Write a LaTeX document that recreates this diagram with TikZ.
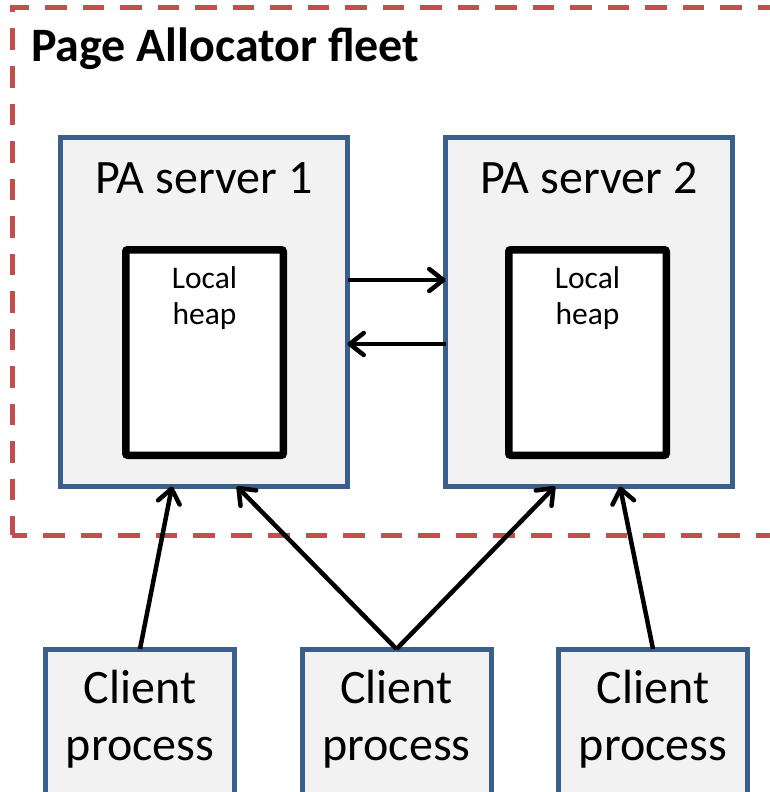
\documentclass[tikz,border=0pt]{standalone}
\usepackage{fontspec}
\setmainfont{Carlito}
\usetikzlibrary{arrows.meta}
\definecolor{boxblue}{HTML}{3A5F8B}
\definecolor{boxfill}{HTML}{F2F2F2}
\definecolor{fleetred}{HTML}{C0504D}

\begin{document}
\begin{tikzpicture}[x=1pt,y=-1pt,
  server/.style={draw=boxblue, fill=boxfill, line width=5pt,
    minimum width=287pt, minimum height=349pt, inner sep=0pt, outer sep=0pt},
  heapbox/.style={draw=black, fill=white, line width=7.5pt, rounded corners=2pt,
    minimum width=157.5pt, minimum height=205.5pt, inner sep=0pt, outer sep=0pt},
  client/.style={draw=boxblue, fill=boxfill, line width=5pt,
    minimum width=189pt, minimum height=163pt, inner sep=0pt, outer sep=0pt},
  bigtext/.style={font=\fontsize{48}{58}\selectfont, inner sep=0pt, anchor=base},
  heaptext/.style={font=\fontsize{31.5}{38}\selectfont, inner sep=0pt, anchor=base},
  link/.style={line width=4.5pt, -{Straight Barb[length=14pt,width=22pt,round]}},
  fleet/.style={draw=fleetred, line width=5pt, line join=miter,
    dash pattern=on 21.5pt off 16pt}
]
\useasboundingbox (0,0) rectangle (770,792);
\clip (0,0) rectangle (770,792);

% dashed fleet boundary (right side runs off the page)
\draw[fleet, dash phase=2.5pt] (12,535) -- (12,8) -- (790,8);
\draw[fleet, dash phase=6.5pt] (12,535) -- (790,535);

\node[anchor=base west, font=\bfseries\fontsize{48}{58}\selectfont, inner sep=0pt]
  (title) at (31,62) {Page Allocator fleet};

% servers
\node[server] (pa1) at (204,312) {};
\node[server] (pa2) at (589,312) {};
\node[bigtext] (pa1t) at (204,193) {PA server 1};
\node[bigtext] (pa2t) at (589,193) {PA server 2};

% local heaps
\node[heapbox] (h1) at (204.5,352.5) {};
\node[heapbox] (h2) at (587.5,352.5) {};
\node[heaptext] (h1a) at (204.5,288) {Local};
\node[heaptext] (h1b) at (204.5,324) {heap};
\node[heaptext] (h2a) at (587.5,288) {Local};
\node[heaptext] (h2b) at (587.5,324) {heap};

% clients
\node[client] (c1) at (140,730.5) {};
\node[client] (c2) at (396.5,730.5) {};
\node[client] (c3) at (653,730.5) {};
\node[bigtext] (c1a) at (140,703) {Client};
\node[bigtext] (c1b) at (140,760) {process};
\node[bigtext] (c2a) at (396.5,703) {Client};
\node[bigtext] (c2b) at (396.5,760) {process};
\node[bigtext] (c3a) at (653,703) {Client};
\node[bigtext] (c3b) at (653,760) {process};

% server to server
\draw[link] ([yshift=32pt]pa1.east) -- ([yshift=32pt]pa2.west);
\draw[link] ([yshift=-32pt]pa2.west) -- ([yshift=-32pt]pa1.east);

% clients to servers
\draw[link] (c1.north) -- ([xshift=-32pt]pa1.south);
\draw[link] (c2.north) -- ([xshift=33pt]pa1.south);
\draw[link] (c2.north) -- ([xshift=-34pt]pa2.south);
\draw[link] (c3.north) -- ([xshift=31pt]pa2.south);
\end{tikzpicture}
\end{document}
